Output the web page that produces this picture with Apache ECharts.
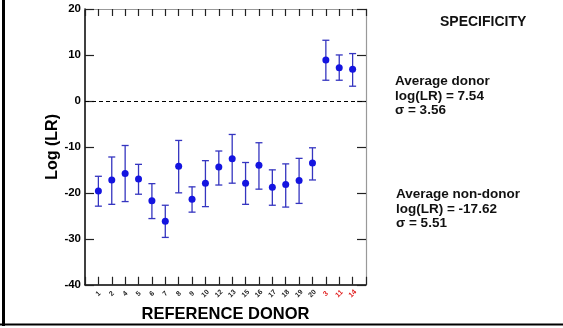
<!DOCTYPE html>
<html>
<head>
<meta charset="utf-8">
<script src="https://cdn.jsdelivr.net/npm/echarts@6/dist/echarts.min.js"></script>
<style>
  html, body { margin: 0; padding: 0; background: #fff; }
  #chart { width: 563px; height: 328px; }
</style>
</head>
<body>
<div id="chart"></div>
<script>
// donor labels in plotted order; the last three are the true donors (red)
const donorLabels = ["1", "2", "4", "5", "6", "7", "8", "9", "10", "12", "13", "15", "16", "17", "18", "19", "20", "3", "11", "14"];
const donorCount = 3;
const meanLR = [-19.6, -17.2, -15.8, -17.0, -21.7, -26.2, -14.2, -21.4, -17.9, -14.4, -12.6, -17.9, -14.0, -18.8, -18.2, -17.3, -13.5, 8.9, 7.2, 6.9];
const upperLR = [-16.4, -12.2, -9.7, -13.8, -18.0, -22.7, -8.6, -18.7, -13.0, -10.9, -7.3, -13.4, -9.1, -15.0, -13.7, -12.5, -10.2, 13.2, 10.0, 10.3];
const lowerLR = [-22.9, -22.5, -21.9, -20.3, -25.6, -29.7, -20.0, -24.2, -23.0, -18.3, -17.9, -22.5, -19.2, -22.7, -23.1, -22.3, -17.2, 4.5, 4.5, 3.2];
const yTicks = [-40, -30, -20, -10, 0, 10, 20];

const FONT = "'Liberation Sans', Arial, sans-serif";

const points = meanLR.map((v, i) => [i + 1, v]);
const bars = meanLR.map((v, i) => [i + 1, lowerLR[i], upperLR[i]]);

function labelFor(v) {
  const i = Math.round(v) - 1;
  return i >= 0 && i < donorLabels.length ? donorLabels[i] : "";
}

function renderErrorBar(params, api) {
  const x = api.value(0);
  const lo = api.coord([x, api.value(1)]);
  const hi = api.coord([x, api.value(2)]);
  const half = 3.5;
  const style = { stroke: "#3535c0", lineWidth: 1.3 };
  return {
    type: "group",
    children: [
      { type: "line", shape: { x1: lo[0], y1: lo[1], x2: hi[0], y2: hi[1] }, style },
      { type: "line", shape: { x1: lo[0] - half, y1: lo[1], x2: lo[0] + half, y2: lo[1] }, style },
      { type: "line", shape: { x1: hi[0] - half, y1: hi[1], x2: hi[0] + half, y2: hi[1] }, style },
    ],
  };
}

const chart = echarts.init(document.getElementById("chart"));
chart.setOption({
  animation: false,
  textStyle: { fontFamily: FONT },
  grid: { left: 85, right: 197, top: 9, bottom: 39 },
  xAxis: [
    {
      type: "value",
      min: 0,
      max: 21,
      interval: 1,
      position: "bottom",
      name: "REFERENCE DONOR",
      nameLocation: "middle",
      nameGap: 21,
      nameTextStyle: { fontSize: 16.5, fontWeight: "bold", color: "#000", fontFamily: FONT },
      axisLine: { onZero: false, lineStyle: { color: "#000", width: 1.5 } },
      axisTick: { inside: true, length: 8, lineStyle: { color: "#222", width: 1.2 } },
      splitLine: { show: false },
      axisLabel: {
        rotate: 45,
        align: "center",
        verticalAlign: "middle",
        margin: 9,
        fontSize: 7,
        fontWeight: "bold",
        formatter: labelFor,
        color: (v) => (Math.round(v) > donorLabels.length - donorCount ? "#e01818" : "#222"),
      },
    },
    {
      type: "value",
      min: 0,
      max: 21,
      interval: 1,
      position: "top",
      axisLine: { onZero: false, lineStyle: { color: "#999", width: 1.2 } },
      axisTick: { inside: true, length: 7, lineStyle: { color: "#222", width: 1.2 } },
      axisLabel: { show: false },
      splitLine: { show: false },
    },
  ],
  yAxis: [
    {
      type: "value",
      min: yTicks[0],
      max: yTicks[yTicks.length - 1],
      interval: 10,
      position: "left",
      name: "Log (LR)",
      nameLocation: "middle",
      nameGap: 24,
      nameTextStyle: { fontSize: 16, fontWeight: "bold", color: "#000", fontFamily: FONT },
      axisLine: { show: true, onZero: false, lineStyle: { color: "#000", width: 1.5 } },
      axisTick: { inside: true, length: 9, lineStyle: { color: "#222", width: 1.2 } },
      axisLabel: { fontSize: 11.5, fontWeight: "bold", color: "#000", margin: 4 },
      splitLine: { show: false },
    },
    {
      type: "value",
      min: yTicks[0],
      max: yTicks[yTicks.length - 1],
      interval: 10,
      position: "right",
      axisLine: { show: true, onZero: false, lineStyle: { color: "#999", width: 1.2 } },
      axisTick: { inside: true, length: 9, lineStyle: { color: "#222", width: 1.2 } },
      axisLabel: { show: false },
      splitLine: { show: false },
    },
  ],
  series: [
    {
      type: "custom",
      renderItem: renderErrorBar,
      data: bars,
      encode: { x: 0, y: [1, 2] },
      z: 2,
    },
    {
      type: "scatter",
      data: points,
      symbol: "circle",
      symbolSize: 7,
      itemStyle: { color: "#1414e0", opacity: 1 },
      z: 3,
      markLine: {
        silent: true,
        symbol: "none",
        label: { show: false },
        lineStyle: { color: "#000", type: [4, 3], width: 1 },
        data: [{ yAxis: 0 }],
      },
    },
  ],
  graphic: [
    // outer frame pieces from the source figure
    { type: "rect", shape: { x: 2, y: 0, width: 3, height: 326 }, style: { fill: "#000" } },
    { type: "rect", shape: { x: 0, y: 323.5, width: 563, height: 2 }, style: { fill: "#000" } },
    {
      type: "text", left: 440, top: 15,
      style: { text: "SPECIFICITY", font: "bold 14px " + FONT, fill: "#111" },
    },
    {
      type: "text", left: 395, top: 74,
      style: { text: "Average donor\nlog(LR) = 7.54\nσ = 3.56", font: "bold 13.5px " + FONT, lineHeight: 14.7, fill: "#111" },
    },
    {
      type: "text", left: 396, top: 187,
      style: { text: "Average non-donor\nlog(LR) = -17.62\nσ = 5.51", font: "bold 13.5px " + FONT, lineHeight: 14.7, fill: "#111" },
    },
  ],
});
</script>
</body>
</html>
